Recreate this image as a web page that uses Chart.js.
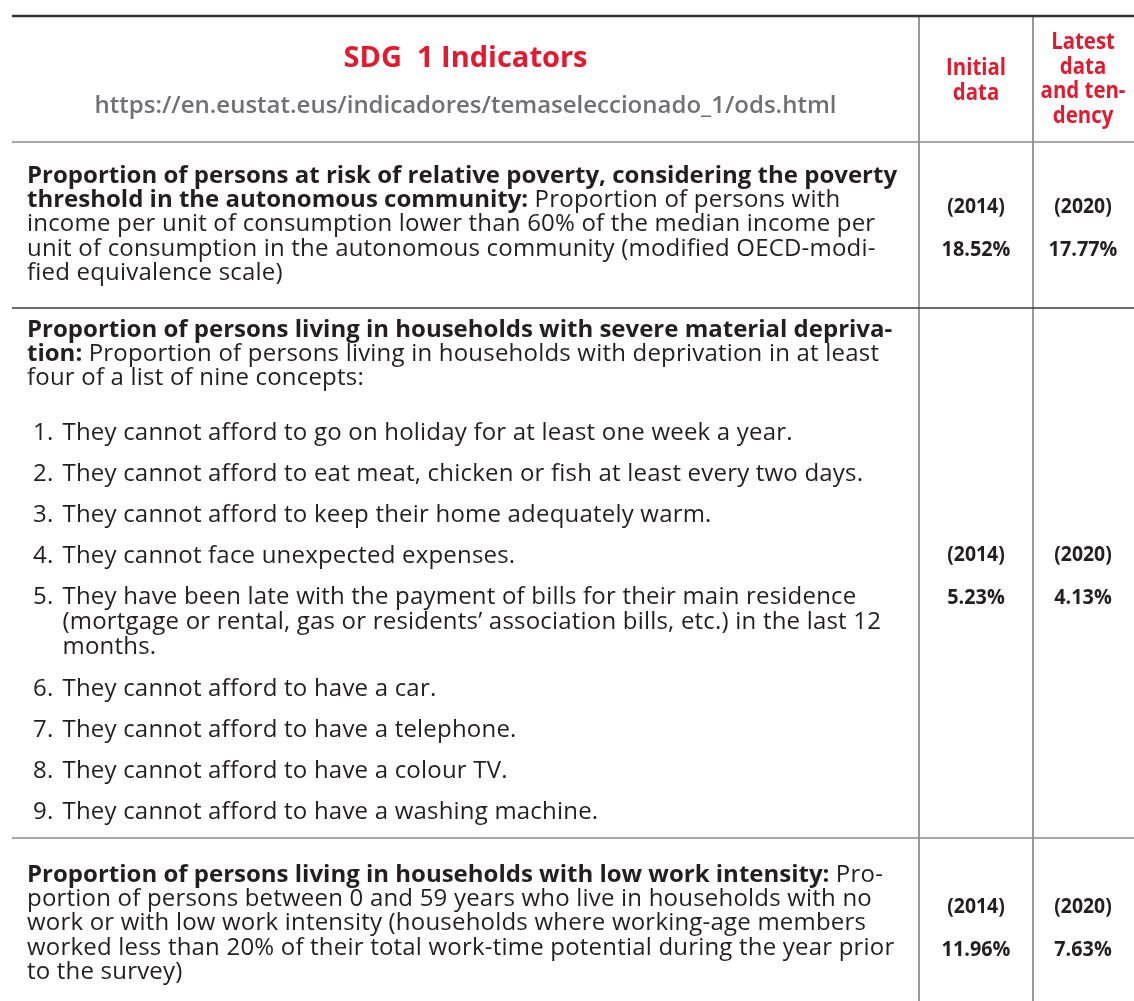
<!DOCTYPE html>
<html>
<head>
<meta charset="utf-8">
<script src="https://cdn.jsdelivr.net/npm/chart.js"></script>
<style>
    html, body { margin: 0; padding: 0; background: #fff; }
    canvas { display: block; }
</style>
</head>
<body>
<canvas id="chart-area" width="1134" height="1001"></canvas>
<script>
// ---- data ----
var tableTitle = 'SDG  1 Indicators';
var sourceUrl = 'https://en.eustat.eus/indicadores/temaseleccionado_1/ods.html';
var initialHead = ['Initial', 'data'];
var latestHead = ['Latest', 'data', 'and ten-', 'dency'];
var initialYears = ['2014', '2014', '2014'];
var initialValues = [18.52, 5.23, 11.96];
var latestYears = ['2020', '2020', '2020'];
var latestValues = [17.77, 4.13, 7.63];

// each line: [bold part, normal part]
var povertyText = [
    ['Proportion of persons at risk of relative poverty, considering the poverty', ''],
    ['threshold in the autonomous community:', ' Proportion of persons with'],
    ['', 'income per unit of consumption lower than 60% of the median income per'],
    ['', 'unit of consumption in the autonomous community (modified OECD-modi-'],
    ['', 'fied equivalence scale)']
];
var deprivationText = [
    ['Proportion of persons living in households with severe material depriva-', ''],
    ['tion:', ' Proportion of persons living in households with deprivation in at least'],
    ['', 'four of a list of nine concepts:']
];
var concepts = [
    ['They cannot afford to go on holiday for at least one week a year.'],
    ['They cannot afford to eat meat, chicken or fish at least every two days.'],
    ['They cannot afford to keep their home adequately warm.'],
    ['They cannot face unexpected expenses.'],
    ['They have been late with the payment of bills for their main residence',
        '(mortgage or rental, gas or residents\u2019 association bills, etc.) in the last 12',
        'months.'],
    ['They cannot afford to have a car.'],
    ['They cannot afford to have a telephone.'],
    ['They cannot afford to have a colour TV.'],
    ['They cannot afford to have a washing machine.']
];
var workText = [
    ['Proportion of persons living in households with low work intensity:', ' Pro-'],
    ['', 'portion of persons between 0 and 59 years who live in households with no'],
    ['', 'work or with low work intensity (households where working-age members'],
    ['', 'worked less than 20% of their total work-time potential during the year prior'],
    ['', 'to the survey)']
];

// ---- layout ----
var RED = '#e5192d', GREY = '#707175', INK = '#231f20';
var FONT = '"Open Sans", "Noto Sans", sans-serif';
var colLines = [919, 1033];
var rowLines = [16, 142, 308, 838, 1012];

var tablePlugin = {
    id: 'tablePlugin',
    afterDraw: function (chart) {
        var ctx = chart.ctx;
        var sx = chart.scales.x, sy = chart.scales.y;
        var px = function (v) { return sx.getPixelForValue(v); };
        var py = function (v) { return sy.getPixelForValue(v); };

        var hline = function (y, x0, x1, w, c) {
            ctx.beginPath();
            ctx.moveTo(px(x0), py(y));
            ctx.lineTo(px(x1), py(y));
            ctx.lineWidth = w;
            ctx.strokeStyle = c;
            ctx.stroke();
        };
        var vline = function (x, y0, y1, w, c) {
            ctx.beginPath();
            ctx.moveTo(px(x), py(y0));
            ctx.lineTo(px(x), py(y1));
            ctx.lineWidth = w;
            ctx.strokeStyle = c;
            ctx.stroke();
        };
        var narrow = function (text, x, y, font, color, squeeze) {
            ctx.save();
            ctx.font = font;
            ctx.fillStyle = color;
            ctx.textAlign = 'center';
            ctx.textBaseline = 'alphabetic';
            ctx.translate(px(x), py(y));
            ctx.scale(squeeze, 1);
            ctx.fillText(text, 0, 0);
            ctx.restore();
        };
        var richLine = function (parts, x, y) {
            ctx.save();
            ctx.textAlign = 'left';
            ctx.textBaseline = 'alphabetic';
            ctx.fillStyle = INK;
            var cx = px(x);
            if (parts[0]) {
                ctx.letterSpacing = '0px';
                ctx.font = 'bold 24px ' + FONT;
                ctx.fillText(parts[0], cx, py(y));
                cx += ctx.measureText(parts[0]).width;
            }
            if (parts[1]) {
                ctx.letterSpacing = '0.2px';
                ctx.font = '24px ' + FONT;
                ctx.fillText(parts[1], cx, py(y));
            }
            ctx.restore();
        };

        ctx.save();
        // grid
        vline(colLines[0], rowLines[0], 1001, 1.2, '#555');
        vline(colLines[1], rowLines[0], 1001, 1.2, '#555');
        hline(rowLines[0], 12, 1134, 2.6, '#333');
        hline(rowLines[1], 12, 1134, 1.6, '#8a8a8a');
        hline(rowLines[2], 12, 1134, 1.4, '#3a3a3a');
        hline(rowLines[3], 12, 1134, 1.6, '#8a8a8a');

        // header
        ctx.font = 'bold 29px ' + FONT;
        ctx.fillStyle = RED;
        ctx.textAlign = 'center';
        ctx.textBaseline = 'alphabetic';
        ctx.fillText(tableTitle, px(465.5), py(67));
        ctx.font = '600 24px ' + FONT;
        ctx.fillStyle = GREY;
        ctx.fillText(sourceUrl, px(465.5), py(113));

        initialHead.forEach(function (t, i) {
            narrow(t, 976, 75 + i * 25, 'bold 24px ' + FONT, RED, 0.85);
        });
        latestHead.forEach(function (t, i) {
            narrow(t, 1083, 49 + i * 24.5, 'bold 24px ' + FONT, RED, 0.85);
        });

        // body text
        var LH = 24.2;
        povertyText.forEach(function (l, i) { richLine(l, 27, 183 + i * LH); });
        deprivationText.forEach(function (l, i) { richLine(l, 27, 337 + i * LH); });
        var y = 440;
        concepts.forEach(function (lines, i) {
            richLine(['', (i + 1) + '.'], 33, y);
            lines.forEach(function (t, j) {
                if (j > 0) y += 25;
                richLine(['', t], 62.5, y);
            });
            y += 41.1;
        });
        workText.forEach(function (l, i) { richLine(l, 27, 882 + i * LH); });

        // value cells
        for (var r = 0; r < 3; r++) {
            var mid = (rowLines[r + 1] + rowLines[r + 2]) / 2;
            narrow('(' + initialYears[r] + ')', 976, mid - 12, 'bold 22px ' + FONT, INK, 0.88);
            narrow(initialValues[r].toFixed(2) + '%', 976, mid + 31, 'bold 22px ' + FONT, INK, 0.9);
            narrow('(' + latestYears[r] + ')', 1083, mid - 12, 'bold 22px ' + FONT, INK, 0.88);
            narrow(latestValues[r].toFixed(2) + '%', 1083, mid + 31, 'bold 22px ' + FONT, INK, 0.9);
        }
        ctx.restore();
    }
};

var ctx = document.getElementById('chart-area').getContext('2d');
var myTable = new Chart(ctx, {
    type: 'scatter',
    data: { datasets: [{ data: [], pointRadius: 0 }] },
    options: {
        responsive: false,
        animation: false,
        devicePixelRatio: 1,
        layout: { padding: 0 },
        plugins: { legend: { display: false }, tooltip: { enabled: false } },
        scales: {
            x: { type: 'linear', min: 0, max: 1134, display: false },
            y: { type: 'linear', min: 0, max: 1001, reverse: true, display: false }
        }
    },
    plugins: [tablePlugin]
});
</script>
</body>
</html>
